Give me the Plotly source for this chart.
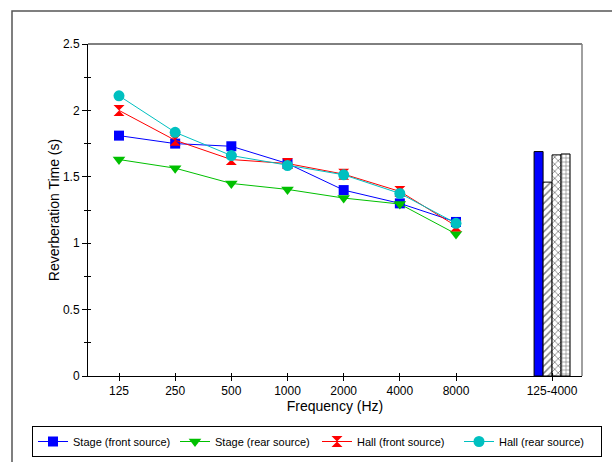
import plotly.graph_objects as go

freq_labels = ["125", "250", "500", "1000", "2000", "4000", "8000"]
freq_pos = [1, 2, 3, 4, 5, 6, 7]
avg_label = "125-4000"
avg_pos = 8.71

stage_front = [1.81, 1.75, 1.73, 1.60, 1.40, 1.30, 1.16]
stage_rear = [1.63, 1.565, 1.45, 1.405, 1.34, 1.295, 1.07]
hall_front = [2.00, 1.775, 1.63, 1.60, 1.52, 1.39, 1.13]
hall_rear = [2.11, 1.835, 1.66, 1.585, 1.515, 1.375, 1.15]

avg_vals = [1.69, 1.46, 1.665, 1.672]

series = [
    ("Stage (front source)", stage_front, "#0000FF", "square", 10),
    ("Stage (rear source)", stage_rear, "#00C000", "triangle-down", 11),
    ("Hall (front source)", hall_front, "#FF0000", "hourglass", 11),
    ("Hall (rear source)", hall_rear, "#00C0C0", "circle", 11),
]

fig = go.Figure()

bar_styles = [
    dict(color="#0000FF"),
    dict(color="white", pattern=dict(shape="/", fgcolor="black", bgcolor="white", size=5, solidity=0.3)),
    dict(color="white", pattern=dict(shape="x", fgcolor="black", bgcolor="white", size=5, solidity=0.3)),
    dict(color="white", pattern=dict(shape="+", fgcolor="black", bgcolor="white", size=4, solidity=0.3)),
]
for v, st in zip(avg_vals, bar_styles):
    fig.add_trace(go.Bar(x=[avg_pos], y=[v], showlegend=False,
                         marker=dict(line=dict(color="black", width=1), **st)))

for name, vals, col, sym, sz in series:
    fig.add_trace(go.Scatter(x=freq_pos, y=vals, name=name, mode="lines+markers",
                             line=dict(color=col, width=1),
                             marker=dict(symbol=sym, size=sz, color=col, line=dict(width=0))))

xr = [0.448, 9.243]
yr = [0, 2.5]
tickvals = freq_pos + [avg_pos]
ticktext = freq_labels + [avg_label]


def px(x):
    return (x - 88) / 494


def py(y):
    return (376 - y) / 332


fig.update_layout(
    width=612, height=462,
    margin=dict(l=88, r=30, t=44, b=86, autoexpand=False),
    paper_bgcolor="white", plot_bgcolor="white",
    font=dict(family="Liberation Sans, Arial", size=12, color="black"),
    barmode="group", bargap=0.36, bargroupgap=0,
    showlegend=True,
    legend=dict(orientation="h", x=px(32), y=py(426), xanchor="left", yanchor="top",
                bgcolor="white", bordercolor="black", borderwidth=1,
                font=dict(size=11), itemwidth=30, tracegroupgap=0,
                entrywidth=97),
    xaxis=dict(range=xr, tickmode="array", tickvals=tickvals, ticktext=ticktext,
               ticks="outside", ticklen=4, tickcolor="black", showline=True,
               linecolor="black", linewidth=1, mirror=False, showgrid=False, zeroline=False,
               automargin=False,
               title=dict(text="Frequency (Hz)", font=dict(size=14), standoff=2)),
    yaxis=dict(range=yr, tickmode="array", tickvals=[0, 0.5, 1, 1.5, 2, 2.5],
               ticktext=["0", "0.5", "1", "1.5", "2", "2.5"],
               ticks="outside", ticklen=5, tickcolor="black", showline=True,
               linecolor="black", linewidth=1, showgrid=False, zeroline=False,
               automargin=False,
               minor=dict(tickvals=[0.25, 0.75, 1.25, 1.75, 2.25], ticks="outside",
                          ticklen=3, tickcolor="black"),
               title=dict(text="Reverberation Time (s)", font=dict(size=14), standoff=0)),
    xaxis2=dict(range=xr, overlaying="x", tickmode="array", tickvals=tickvals,
                ticks="inside", ticklen=3, tickcolor="black", showticklabels=False,
                showline=False, showgrid=False, zeroline=False),
    yaxis2=dict(range=yr, overlaying="y", tickmode="array",
                tickvals=[0, 0.25, 0.5, 0.75, 1, 1.25, 1.5, 1.75, 2, 2.25],
                ticks="inside", ticklen=3, tickcolor="black", showticklabels=False,
                showline=False, showgrid=False, zeroline=False),
    shapes=[
        dict(type="line", xref="paper", yref="paper", x0=0, x1=1, y0=1, y1=1,
             line=dict(color="black", width=1)),
        dict(type="line", xref="paper", yref="paper", x0=1, x1=1, y0=0, y1=1,
             line=dict(color="#808080", width=1.5)),
        dict(type="rect", xref="paper", yref="paper", x0=px(12), x1=1.3, y0=-0.5, y1=py(11),
             line=dict(color="#555555", width=1.5), layer="below"),
        # legend shadow
        dict(type="rect", xref="paper", yref="paper", x0=px(35), x1=px(599), y0=py(457), y1=py(429),
             line=dict(width=0), fillcolor="black", layer="below"),
    ],
)
# invisible trace to activate the overlay axes
fig.add_trace(go.Scatter(x=[None], y=[None], xaxis="x2", yaxis="y2", showlegend=False,
                         hoverinfo="skip"))

fig.write_html("out.html")
